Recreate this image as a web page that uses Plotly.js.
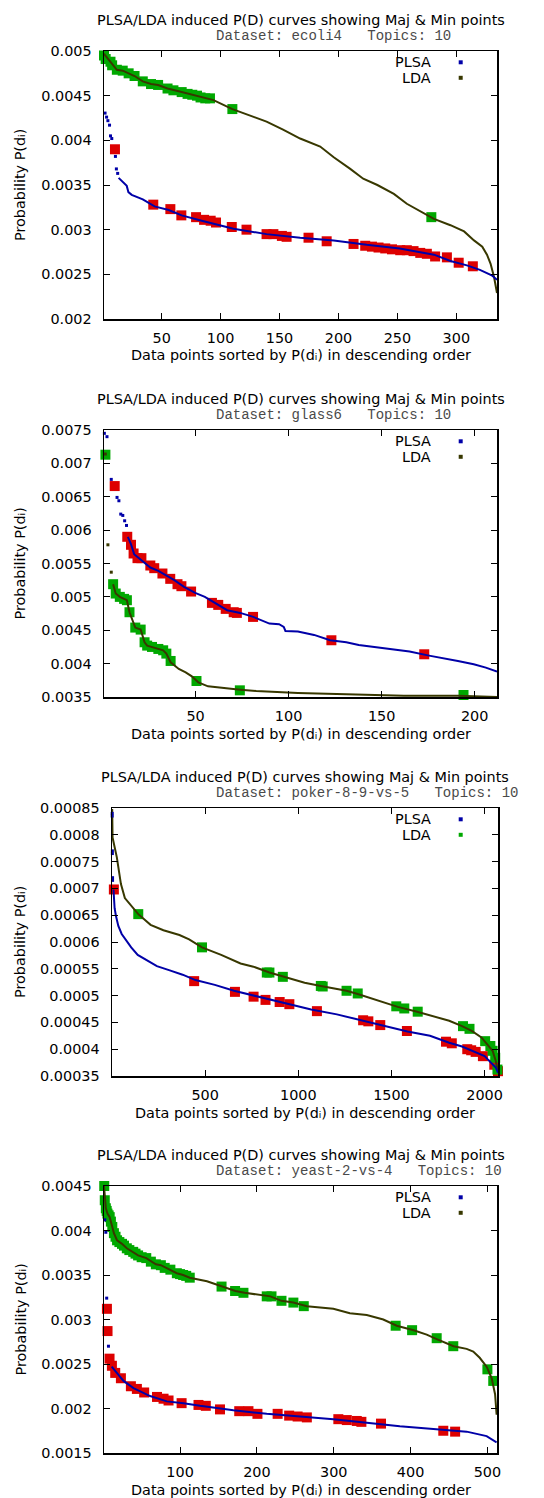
<!DOCTYPE html>
<html><head><meta charset="utf-8">
<script src="https://cdn.plot.ly/plotly-3.0.1.min.js"></script>
<style>html,body{margin:0;padding:0;background:#fff}#chart{width:544px;height:1498px}</style>
</head><body><div id="chart"></div>
<script>
// ---------- ecoli4 ----------
const ecoliPlsaHeadX = [1, 2, 3.3, 4.4, 5.8, 6.6, 7.7, 10.8, 11.6, 12.7];
const ecoliPlsaHeadY = [0.00478, 0.004305, 0.00426, 0.00422, 0.00417, 0.00405, 0.00402, 0.00382, 0.00368, 0.00363];
const ecoliPlsaX = [13.5, 17.7, 20.4, 21.8, 24.6, 34, 44, 56, 67, 84, 98, 111, 139, 167.5, 196, 224, 252, 281, 295, 309, 320, 330, 334.5];
const ecoliPlsaY = [0.00358, 0.00353, 0.00349, 0.00342, 0.00339, 0.00334, 0.00326, 0.00322, 0.00316, 0.0031, 0.00305, 0.00301, 0.00295, 0.00291, 0.00288, 0.00283, 0.00279, 0.00272, 0.00265, 0.0026, 0.00255, 0.00249, 0.00244];
const ecoliLdaX = [1, 6.6, 12, 17, 22, 27, 34, 41, 47, 55, 67, 76, 83, 94, 110, 128, 139, 153, 167.5, 184.5, 196, 210, 221, 233, 247, 258, 269.6, 281, 295, 306.6, 315, 322, 326, 329, 332, 334.5];
const ecoliLdaY = [0.00497, 0.00488, 0.00479, 0.00478, 0.00475, 0.00472, 0.00466, 0.00463, 0.00462, 0.00458, 0.00454, 0.00451, 0.00448, 0.00445, 0.00435, 0.00426, 0.00421, 0.00412, 0.00402, 0.00393, 0.00381, 0.00368, 0.00357, 0.0035, 0.0034, 0.00329, 0.0032, 0.00312, 0.00305, 0.00298, 0.00288, 0.00281, 0.00272, 0.00262, 0.00247, 0.00229];
const ecoliMinX = [10.4, 42.9, 57.4, 66.7, 79.2, 86, 91.6, 96.1, 109.5, 122, 139, 144.8, 152, 156, 174.6, 190, 212.8, 222.7, 228.4, 234, 239.7, 245.4, 252.4, 258, 263.7, 269.4, 275, 282, 292, 302, 314];
const ecoliMinY = [0.0039, 0.00328, 0.00323, 0.00316, 0.00314, 0.00311, 0.0031, 0.00308, 0.00303, 0.003, 0.00295, 0.00295, 0.00293, 0.00292, 0.00291, 0.00287, 0.00284, 0.00282, 0.00281, 0.0028, 0.00279, 0.00278, 0.00277, 0.00277, 0.00276, 0.00274, 0.00273, 0.0027, 0.00269, 0.00263, 0.00259];
const ecoliMajX = [1.1, 2.5, 6.6, 8, 12, 17, 22, 27, 34, 41, 47, 55, 60, 67, 72, 76, 80, 83, 87, 91, 110, 278.8];
const ecoliMajY = [0.00495, 0.00491, 0.00488, 0.00484, 0.00479, 0.00478, 0.00475, 0.00472, 0.00466, 0.00463, 0.00462, 0.00458, 0.00456, 0.00454, 0.00452, 0.00451, 0.0045, 0.00448, 0.00447, 0.00447, 0.00435, 0.00314];
const ecoliXTicks = [50, 100, 150, 200, 250, 300];
const ecoliYTicks = [0.002, 0.0025, 0.003, 0.0035, 0.004, 0.0045, 0.005];
const ecoliYLabels = ['0.002', '0.0025', '0.003', '0.0035', '0.004', '0.0045', '0.005'];

// ---------- glass6 ----------
const glassPlsaHeadX = [1, 2.4, 4.7, 7.8, 8.8, 9.8, 10.9, 11.9, 12.9];
const glassPlsaHeadY = [0.00745, 0.0074, 0.00676, 0.00649, 0.00644, 0.00624, 0.00622, 0.00614, 0.00607];
const glassPlsaX = [13.6, 15.3, 17, 21.4, 25.7, 30, 34.3, 38.6, 43.8, 49.8, 55, 60, 67, 74, 81, 89.7, 94.9, 97.4, 98.3, 105, 113.7, 122.3, 131, 137.7, 148, 158, 165, 175.5, 182, 191, 199.5, 206, 212];
const glassPlsaY = [0.0059, 0.00579, 0.00564, 0.00554, 0.00544, 0.00539, 0.00532, 0.00525, 0.00515, 0.00506, 0.005, 0.00492, 0.0048, 0.00476, 0.0047, 0.0046, 0.00459, 0.00455, 0.00449, 0.00448, 0.00443, 0.00435, 0.00432, 0.00428, 0.00424, 0.0042, 0.00418, 0.00412, 0.00409, 0.00404, 0.00399, 0.00394, 0.00388];
const glassLdaHeadX = [1.5, 2.9, 4.7];
const glassLdaHeadY = [0.00714, 0.00578, 0.00537];
const glassLdaX = [5.7, 7.1, 9.3, 11.6, 13.1, 14.5, 17.6, 20.5, 22.6, 24, 26.6, 30, 32.6, 34.3, 36.6, 41, 44.7, 48, 51.5, 56.7, 60, 65, 74, 82.6, 94.7, 105, 131, 162, 191, 206, 212];
const glassLdaY = [0.00519, 0.00505, 0.005, 0.00497, 0.00495, 0.00477, 0.00454, 0.00451, 0.00432, 0.00427, 0.00425, 0.00422, 0.0042, 0.00415, 0.00402, 0.00392, 0.00387, 0.00381, 0.00372, 0.00366, 0.00365, 0.00363, 0.00361, 0.00359, 0.00357, 0.00356, 0.00354, 0.00352, 0.00352, 0.00351, 0.0035];
const glassMinX = [6.55, 13.3, 15.3, 16.7, 18.8, 20.9, 25.7, 27.8, 32.2, 36.4, 40.3, 42.4, 47.6, 58.8, 62.2, 66.2, 70.5, 72.2, 80.9, 123, 172.9];
const glassMinY = [0.00666, 0.0059, 0.00578, 0.00565, 0.00558, 0.00558, 0.00547, 0.00543, 0.00535, 0.00527, 0.00519, 0.00516, 0.00508, 0.00491, 0.00488, 0.00482, 0.00477, 0.00476, 0.0047, 0.00435, 0.00414];
const glassMajX = [1.55, 5.7, 7.1, 9.3, 11.6, 13.1, 14.5, 17.6, 20.5, 22.6, 24, 26.6, 30, 32.6, 34.3, 36.6, 50.5, 73.8, 194];
const glassMajY = [0.00713, 0.00519, 0.00505, 0.005, 0.00497, 0.00495, 0.00477, 0.00454, 0.00451, 0.00432, 0.00427, 0.00425, 0.00422, 0.0042, 0.00415, 0.00404, 0.00374, 0.0036, 0.00353];
const glassXTicks = [50, 100, 150, 200];
const glassYTicks = [0.0035, 0.004, 0.0045, 0.005, 0.0055, 0.006, 0.0065, 0.007, 0.0075];
const glassYLabels = ['0.0035', '0.004', '0.0045', '0.005', '0.0055', '0.006', '0.0065', '0.007', '0.0075'];

// ---------- poker-8-9-vs-5 ----------
const pokerPlsaHeadX = [1, 1, 2, 2, 3, 3];
const pokerPlsaHeadY = [0.00084, 0.000835, 0.00077, 0.000765, 0.00072, 0.000715];
const pokerPlsaX = [8, 14, 21, 34, 52, 78, 103, 138, 190, 241, 310, 379, 448, 552, 655, 759, 862, 966, 1069, 1207, 1345, 1466, 1586, 1707, 1810, 1879, 1948, 2000, 2034, 2060, 2072];
const pokerPlsaY = [0.000698, 0.000663, 0.000649, 0.00063, 0.000615, 0.000602, 0.00059, 0.000576, 0.000566, 0.000555, 0.000547, 0.000539, 0.000529, 0.00052, 0.000509, 0.0005, 0.000491, 0.000483, 0.000474, 0.000465, 0.000453, 0.000443, 0.000433, 0.000425, 0.000412, 0.000405, 0.000395, 0.000387, 0.000375, 0.000366, 0.000356];
const pokerLdaX = [1, 3, 26, 48, 69, 103, 141, 207, 276, 362, 414, 483, 586, 690, 759, 845, 931, 1034, 1121, 1259, 1319, 1431, 1534, 1638, 1741, 1810, 1879, 1931, 1983, 2017, 2043, 2060, 2072];
const pokerLdaY = [0.000848, 0.000795, 0.000758, 0.000708, 0.000682, 0.000668, 0.000652, 0.000632, 0.000622, 0.000613, 0.000605, 0.00059, 0.000576, 0.00056, 0.000554, 0.000543, 0.000534, 0.000524, 0.000518, 0.000509, 0.000503, 0.000491, 0.000479, 0.00047, 0.000459, 0.000453, 0.000443, 0.000434, 0.000422, 0.000409, 0.000397, 0.000378, 0.000359];
const pokerMinX = [10, 441, 660, 760, 824, 900, 952, 1100, 1348, 1376, 1440, 1583, 1793, 1824, 1907, 1928, 1952, 1991, 2052, 2072];
const pokerMinY = [0.000698, 0.000527, 0.000507, 0.000498, 0.000492, 0.000488, 0.000484, 0.000471, 0.000454, 0.000452, 0.000445, 0.000434, 0.000414, 0.000411, 0.0004, 0.000398, 0.000395, 0.000387, 0.000371, 0.000359];
const pokerMajX = [141, 483, 831, 845, 917, 1121, 1131, 1259, 1319, 1526, 1569, 1641, 1884, 1919, 2003, 2031, 2043, 2057, 2069, 2074];
const pokerMajY = [0.000652, 0.00059, 0.000543, 0.000543, 0.000535, 0.000518, 0.000517, 0.000509, 0.000504, 0.00048, 0.000476, 0.00047, 0.000443, 0.000438, 0.000415, 0.000406, 0.000397, 0.000384, 0.000362, 0.000347];
const pokerXTicks = [500, 1000, 1500, 2000];
const pokerYTicks = [0.00035, 0.0004, 0.00045, 0.0005, 0.00055, 0.0006, 0.00065, 0.0007, 0.00075, 0.0008, 0.00085];
const pokerYLabels = ['0.00035', '0.0004', '0.00045', '0.0005', '0.00055', '0.0006', '0.00065', '0.0007', '0.00075', '0.0008', '0.00085'];

// ---------- yeast-2-vs-4 ----------
const yeastPlsaHeadX = [2, 3.4, 4.5, 6.8];
const yeastPlsaHeadY = [0.00412, 0.00398, 0.00324, 0.0027];
const yeastPlsaX = [11, 17.8, 26.4, 39.4, 61, 82.8, 104.5, 126, 169.5, 212.8, 256, 299.5, 343, 386, 429.6, 473, 499, 512];
const yeastPlsaY = [0.00247, 0.0024, 0.00231, 0.00223, 0.00214, 0.00208, 0.00206, 0.00203, 0.00198, 0.00194, 0.00191, 0.00188, 0.00184, 0.0018, 0.00177, 0.00174, 0.00169, 0.00162];
const yeastLdaX = [1, 2, 3.4, 5.5, 8.4, 11.8, 13.9, 18, 24.4, 30.7, 39, 45.4, 56, 68.5, 75, 87.4, 95.8, 104, 112.6, 135, 155.5, 172, 184, 217.6, 232, 247.5, 265, 299.5, 321, 343, 364.5, 382, 404, 421, 434, 456, 473, 481.6, 490, 499, 505.6, 510, 512];
const yeastLdaY = [0.0045, 0.00434, 0.00425, 0.00419, 0.00415, 0.00404, 0.00397, 0.00389, 0.00385, 0.0038, 0.00376, 0.00372, 0.00369, 0.00362, 0.00361, 0.00356, 0.00352, 0.0035, 0.00347, 0.00343, 0.00337, 0.00332, 0.0033, 0.00326, 0.00321, 0.00319, 0.00315, 0.00312, 0.00307, 0.00305, 0.003, 0.00293, 0.00288, 0.00283, 0.00278, 0.0027, 0.00267, 0.00264, 0.00257, 0.00247, 0.00234, 0.00216, 0.00193];
const yeastMinX = [4.8, 5.6, 8.2, 11.3, 15.6, 23, 36, 43.8, 53.3, 70, 78.5, 85, 102, 124, 133.5, 152, 177, 189, 200.7, 227, 242, 253, 265, 306, 317, 330, 336, 361.5, 442.6, 458];
const yeastMinY = [0.00312, 0.00287, 0.00256, 0.00248, 0.0024, 0.00234, 0.00225, 0.00222, 0.00218, 0.00213, 0.00211, 0.00209, 0.00206, 0.00204, 0.00203, 0.00199, 0.00197, 0.00197, 0.00194, 0.00194, 0.00192, 0.00191, 0.0019, 0.00188, 0.00187, 0.00186, 0.00185, 0.00183, 0.00175, 0.00174];
const yeastMajX = [1.3, 2, 3.4, 4.5, 5.5, 7, 8.4, 10, 11.8, 13.9, 16, 18, 21, 24.4, 27, 30.7, 34, 39, 42, 45.4, 50, 56, 62, 68.5, 75, 80, 87.4, 95.8, 100, 104, 108, 112.6, 154, 171.6, 182.5, 212.8, 219, 232, 247.5, 261, 380.6, 402, 434, 455.6, 500, 507.6];
const yeastMajY = [0.0045, 0.00434, 0.00425, 0.00422, 0.00419, 0.00417, 0.00415, 0.0041, 0.00404, 0.00397, 0.00393, 0.00389, 0.00387, 0.00385, 0.00383, 0.0038, 0.00378, 0.00376, 0.00374, 0.00372, 0.0037, 0.00369, 0.00365, 0.00362, 0.00361, 0.00358, 0.00356, 0.00352, 0.00351, 0.0035, 0.00349, 0.00347, 0.00337, 0.00332, 0.0033, 0.00326, 0.00326, 0.00321, 0.00319, 0.00315, 0.00293, 0.00288, 0.00279, 0.0027, 0.00244, 0.00231];
const yeastXTicks = [100, 200, 300, 400, 500];
const yeastYTicks = [0.0015, 0.002, 0.0025, 0.003, 0.0035, 0.004, 0.0045];
const yeastYLabels = ['0.0015', '0.002', '0.0025', '0.003', '0.0035', '0.004', '0.0045'];

const datasetNames = ['ecoli4', 'glass6', 'poker-8-9-vs-5', 'yeast-2-vs-4'];
const topicCount = 10;
const legendNames = ['PLSA', 'LDA'];
const chartTitle = 'PLSA/LDA induced P(D) curves showing Maj & Min points';
const xTitle = 'Data points sorted by P(d\u1d62) in descending order';
const yTitle = 'Probability P(d\u1d62)';

// ---------- styling ----------
const W = 544, H = 1498;
const C_PLSA = '#0000a8', C_LDA = '#383800', C_MIN = '#dd0000', C_MAJ = '#00a800';
const FONT = 'DejaVu Sans';
const FS = 14.4;
const panels = [
  {top: 51, bottom: 319, left: 104, right: 497, xr: [1.1, 334.5], yr: [0.002, 0.005],
   plsaH: [ecoliPlsaHeadX, ecoliPlsaHeadY], plsa: [ecoliPlsaX, ecoliPlsaY], ldaH: null, lda: [ecoliLdaX, ecoliLdaY],
   min: [ecoliMinX, ecoliMinY], maj: [ecoliMajX, ecoliMajY], xt: ecoliXTicks, yt: ecoliYTicks, yl: ecoliYLabels, ldaLeg: C_LDA},
  {top: 430, bottom: 697, left: 104, right: 497, xr: [0.8, 212], yr: [0.0035, 0.0075],
   plsaH: [glassPlsaHeadX, glassPlsaHeadY], plsa: [glassPlsaX, glassPlsaY], ldaH: [glassLdaHeadX, glassLdaHeadY], lda: [glassLdaX, glassLdaY],
   min: [glassMinX, glassMinY], maj: [glassMajX, glassMajY], xt: glassXTicks, yt: glassYTicks, yl: glassYLabels, ldaLeg: C_LDA},
  {top: 808, bottom: 1076, left: 112, right: 498, xr: [0, 2072], yr: [0.00035, 0.00085],
   plsaH: [pokerPlsaHeadX, pokerPlsaHeadY], plsa: [pokerPlsaX, pokerPlsaY], ldaH: null, lda: [pokerLdaX, pokerLdaY],
   min: [pokerMinX, pokerMinY], maj: [pokerMajX, pokerMajY], xt: pokerXTicks, yt: pokerYTicks, yl: pokerYLabels, ldaLeg: C_MAJ},
  {top: 1186, bottom: 1453, left: 104, right: 497, xr: [1, 512.5], yr: [0.0015, 0.0045],
   plsaH: [yeastPlsaHeadX, yeastPlsaHeadY], plsa: [yeastPlsaX, yeastPlsaY], ldaH: null, lda: [yeastLdaX, yeastLdaY],
   min: [yeastMinX, yeastMinY], maj: [yeastMajX, yeastMajY], xt: yeastXTicks, yt: yeastYTicks, yl: yeastYLabels, ldaLeg: C_LDA}
];

const px = v => v / W;
const py = v => 1 - v / H;
const traces = [], annotations = [], shapes = [];
const layout = {
  width: W, height: H, margin: {l: 0, r: 0, t: 0, b: 0},
  paper_bgcolor: '#fff', plot_bgcolor: '#fff', showlegend: false,
  annotations: annotations, shapes: shapes
};

panels.forEach((p, i) => {
  const k = i === 0 ? '' : String(i + 1);
  const xa = 'x' + k, ya = 'y' + k;
  const common = {
    showgrid: false, zeroline: false, showline: true, linecolor: '#000', linewidth: 1.5,
    mirror: 'ticks', ticks: 'inside', ticklen: 6, tickwidth: 1, tickcolor: '#000',
    tickfont: {family: FONT, size: FS, color: '#000'}, fixedrange: true
  };
  layout['xaxis' + k] = Object.assign({}, common, {
    domain: [px(p.left), px(p.right)], range: p.xr, anchor: ya,
    tickmode: 'array', tickvals: p.xt, ticktext: p.xt.map(String), ticklabelstandoff: 5
  });
  layout['yaxis' + k] = Object.assign({}, common, {
    domain: [py(p.bottom), py(p.top)], range: p.yr, anchor: xa,
    tickmode: 'array', tickvals: p.yt, ticktext: p.yl, ticklabelstandoff: 8
  });
  const sq = (d, c, s) => ({x: d[0], y: d[1], xaxis: xa, yaxis: ya, type: 'scatter', mode: 'markers',
    cliponaxis: false, hoverinfo: 'skip', marker: {symbol: 'square', size: s, color: c, line: {width: 0}}});
  const ln = (d, c) => ({x: d[0], y: d[1], xaxis: xa, yaxis: ya, type: 'scatter', mode: 'lines',
    hoverinfo: 'skip', line: {color: c, width: 2}});
  traces.push(sq(p.min, C_MIN, 10));
  traces.push(sq(p.maj, C_MAJ, 10));
  traces.push(ln(p.lda, C_LDA));
  if (p.ldaH) traces.push(sq(p.ldaH, C_LDA, 3));
  traces.push(ln(p.plsa, C_PLSA));
  traces.push(sq(p.plsaH, C_PLSA, 3));

  const cx = (p.left + p.right) / 2;
  annotations.push({xref: 'paper', yref: 'paper', x: px(cx), y: py(p.top - 31), xanchor: 'center', yanchor: 'middle',
    showarrow: false, text: chartTitle, font: {family: FONT, size: FS, color: '#000'}});
  annotations.push({xref: 'paper', yref: 'paper', x: px(214), y: py(p.top - 14.7), xanchor: 'left', yanchor: 'middle',
    showarrow: false, text: 'Dataset: ' + datasetNames[i] + '\u00a0\u00a0\u00a0Topics: ' + topicCount,
    font: {family: 'Liberation Mono', size: 14, color: '#4a4a4a'}});
  annotations.push({xref: 'paper', yref: 'paper', x: px(cx), y: py(p.bottom + 36.5), xanchor: 'center', yanchor: 'middle',
    showarrow: false, text: xTitle, font: {family: FONT, size: FS, color: '#000'}});
  annotations.push({xref: 'paper', yref: 'paper', x: px(20), y: py((p.top + p.bottom) / 2), xanchor: 'center', yanchor: 'middle',
    textangle: -90, showarrow: false, text: yTitle, font: {family: FONT, size: FS, color: '#000'}});
  // legend
  const legCols = [C_PLSA, p.ldaLeg];
  [11.3, 26.8].forEach((dy, j) => {
    annotations.push({xref: 'paper', yref: 'paper', x: px(433), y: py(p.top + dy), xanchor: 'right', yanchor: 'middle',
      showarrow: false, text: legendNames[j], font: {family: FONT, size: FS, color: '#000'}});
    shapes.push({type: 'rect', xref: 'paper', yref: 'paper', x0: px(458.7), x1: px(462.7),
      y0: py(p.top + dy + 2), y1: py(p.top + dy - 2), fillcolor: legCols[j], line: {width: 0}});
  });
});

Plotly.newPlot('chart', traces, layout, {staticPlot: true, displayModeBar: false});
</script></body></html>
